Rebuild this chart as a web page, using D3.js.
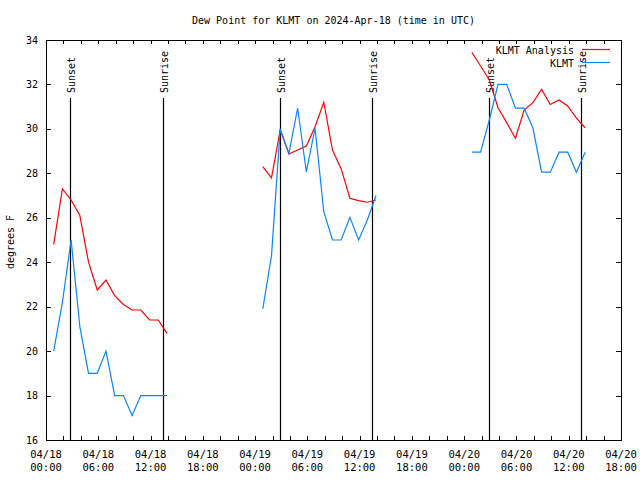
<!DOCTYPE html>
<html>
<head>
<meta charset="utf-8">
<script src="https://cdn.jsdelivr.net/npm/d3@7/dist/d3.min.js"></script>
<style>
  html, body { margin: 0; padding: 0; background: #fff; }
  svg { display: block; }
  text { font-family: "DejaVu Sans Mono", monospace; font-size: 10px; fill: #000; }
</style>
</head>
<body>
<svg id="chart" width="640" height="480"></svg>
<script>
// ---- Data ----
const title = "Dew Point for KLMT on 2024-Apr-18 (time in UTC)";
const yLabel = "degrees F";
const seriesNames = ["KLMT Analysis", "KLMT"];

const obsTimes = [
  "2024-04-18T00:53Z","2024-04-18T01:53Z","2024-04-18T02:53Z","2024-04-18T03:53Z","2024-04-18T04:53Z",
  "2024-04-18T05:53Z","2024-04-18T06:53Z","2024-04-18T07:53Z","2024-04-18T08:53Z","2024-04-18T09:53Z",
  "2024-04-18T10:53Z","2024-04-18T11:53Z","2024-04-18T12:53Z","2024-04-18T13:53Z",
  "2024-04-19T00:53Z","2024-04-19T01:53Z","2024-04-19T02:53Z","2024-04-19T03:53Z","2024-04-19T04:53Z",
  "2024-04-19T05:53Z","2024-04-19T06:53Z","2024-04-19T07:53Z","2024-04-19T08:53Z","2024-04-19T09:53Z",
  "2024-04-19T10:53Z","2024-04-19T11:53Z","2024-04-19T12:53Z","2024-04-19T13:53Z",
  "2024-04-20T00:53Z","2024-04-20T01:53Z","2024-04-20T02:53Z","2024-04-20T03:53Z","2024-04-20T04:53Z",
  "2024-04-20T05:53Z","2024-04-20T06:53Z","2024-04-20T07:53Z","2024-04-20T08:53Z","2024-04-20T09:53Z",
  "2024-04-20T10:53Z","2024-04-20T11:53Z","2024-04-20T12:53Z","2024-04-20T13:53Z"
];

const analysisValues = [
  24.8, 27.3, 26.8, 26.1, 24.0, 22.75, 23.2, 22.5, 22.1, 21.85, 21.85, 21.4, 21.4, 20.8,
  28.3, 27.8, 29.95, 28.87, 29.05, 29.23, 30.1, 31.2, 29.05, 28.2, 26.88, 26.77, 26.7, 26.8,
  33.45, 32.83, 32.2, 30.95, 30.28, 29.58, 30.85, 31.18, 31.78, 31.1, 31.3, 31.03, 30.48, 30.05
];

const observedValues = [
  20.0, 22.2, 25.0, 21.1, 19.0, 19.0, 20.0, 18.0, 18.0, 17.1, 18.0, 18.0, 18.0, 18.0,
  21.9, 24.3, 30.0, 28.9, 30.93, 28.07, 30.03, 26.28, 25.0, 25.0, 26.02, 25.0, 25.9, 27.0,
  28.95, 28.95, 30.4, 32.0, 32.0, 30.93, 30.93, 30.05, 28.05, 28.05, 28.95, 28.95, 28.05, 28.95
];

const sunsetTimes = ["2024-04-18T02:48Z", "2024-04-19T02:49Z", "2024-04-20T02:52Z"];
const sunriseTimes = ["2024-04-18T13:28Z", "2024-04-19T13:28Z", "2024-04-20T13:22Z"];

const xDomain = ["2024-04-18T00:00Z", "2024-04-20T18:00Z"];
const yDomain = [16, 34];
const yTicks = [16, 18, 20, 22, 24, 26, 28, 30, 32, 34];

const colors = ["#ff0000", "#0a86ff"];

// ---- Layout ----
const svg = d3.select("#chart");
const mLeft = 46, mRight = 621, mTop = 40, mBottom = 440;

const x = d3.scaleUtc().domain(xDomain.map(d => new Date(d))).range([mLeft, mRight]);
const y = d3.scaleLinear().domain(yDomain).range([mBottom, mTop]);

// Title (centered over plot area)
svg.append("text").attr("x", (mLeft + mRight) / 2).attr("y", 24).attr("text-anchor", "middle").text(title);

// Y label
svg.append("text")
  .attr("transform", `translate(14,242) rotate(-90)`)
  .attr("text-anchor", "middle")
  .text(yLabel);

// Axes (gnuplot style, inward ticks, mirrored)
const xEnd = new Date(new Date(xDomain[1]).getTime() + 1);
const majorTicks = d3.utcHour.every(6).range(new Date(xDomain[0]), xEnd);
const minorTicks = d3.utcHour.every(2).range(new Date(xDomain[0]), xEnd);

const fmtDate = d3.utcFormat("%m/%d");
const fmtTime = d3.utcFormat("%H:%M");

const gxb = svg.append("g").attr("transform", `translate(0,${mBottom})`)
  .call(d3.axisBottom(x).tickValues(minorTicks).tickSize(-4).tickFormat(""));
const gxt = svg.append("g").attr("transform", `translate(0,${mTop})`)
  .call(d3.axisTop(x).tickValues(minorTicks).tickSize(-4).tickFormat(""));
const gyl = svg.append("g").attr("transform", `translate(${mLeft},0)`)
  .call(d3.axisLeft(y).tickValues(yTicks).tickSize(-5).tickFormat(""));
const gyr = svg.append("g").attr("transform", `translate(${mRight},0)`)
  .call(d3.axisRight(y).tickValues(yTicks).tickSize(-5).tickFormat(""));

[gxb, gxt, gyl, gyr].forEach(g => {
  g.select(".domain").remove();
  g.selectAll(".tick line").attr("stroke", "#000").attr("stroke-width", 1).attr("shape-rendering", "crispEdges");
});

// Border
svg.append("rect").attr("x", mLeft).attr("y", mTop).attr("width", mRight - mLeft).attr("height", mBottom - mTop)
  .attr("fill", "none").attr("stroke", "#000").attr("stroke-width", 1).attr("shape-rendering", "crispEdges");

// X tick labels (two lines)
const xl = svg.append("g");
majorTicks.forEach(t => {
  const tx = xl.append("text").attr("x", x(t)).attr("text-anchor", "middle").style("font-size", "10.5px");
  tx.append("tspan").attr("x", x(t)).attr("y", 458).text(fmtDate(t));
  tx.append("tspan").attr("x", x(t)).attr("y", 471).text(fmtTime(t));
});

// Y tick labels
svg.append("g").selectAll("text").data(yTicks).join("text")
  .attr("x", 38).attr("y", d => y(d)).attr("dy", "0.35em").attr("text-anchor", "end")
  .text(d => d);

// Sunset/Sunrise lines
const sunEvents = sunsetTimes.map(t => ({t: new Date(t), label: "Sunset"}))
  .concat(sunriseTimes.map(t => ({t: new Date(t), label: "Sunrise"})));
const sg = svg.append("g");
sunEvents.forEach(e => {
  const px = Math.round(x(e.t)) + 0.5;
  sg.append("line").attr("x1", px).attr("x2", px).attr("y1", 98).attr("y2", mBottom)
    .attr("stroke", "#000").attr("stroke-width", 1.2);
  sg.append("text").attr("transform", `translate(${px + 4.5},93) rotate(-90)`)
    .attr("text-anchor", "start").text(e.label);
});

// Series
const times = obsTimes.map(t => new Date(t));
function segments(vals) {
  const segs = [];
  let cur = [];
  times.forEach((t, i) => {
    if (cur.length && (t - cur[cur.length - 1].t) > 2 * 3600e3) { segs.push(cur); cur = []; }
    cur.push({t, v: vals[i]});
  });
  if (cur.length) segs.push(cur);
  return segs;
}
const line = d3.line().x(d => x(d.t)).y(d => y(d.v));
[analysisValues, observedValues].forEach((vals, si) => {
  segments(vals).forEach(seg => {
    svg.append("path").attr("d", line(seg)).attr("fill", "none")
      .attr("stroke", colors[si]).attr("stroke-width", 1.2);
  });
});

// Legend
const legendY = [50, 63];
seriesNames.forEach((n, i) => {
  svg.append("text").attr("x", 574).attr("y", legendY[i]).attr("dy", "0.35em")
    .attr("text-anchor", "end").text(n);
  svg.append("line").attr("x1", 582).attr("x2", 610).attr("y1", legendY[i] - 0.5).attr("y2", legendY[i] - 0.5)
    .attr("stroke", colors[i]).attr("stroke-width", 1.2);
});
</script>
</body>
</html>
